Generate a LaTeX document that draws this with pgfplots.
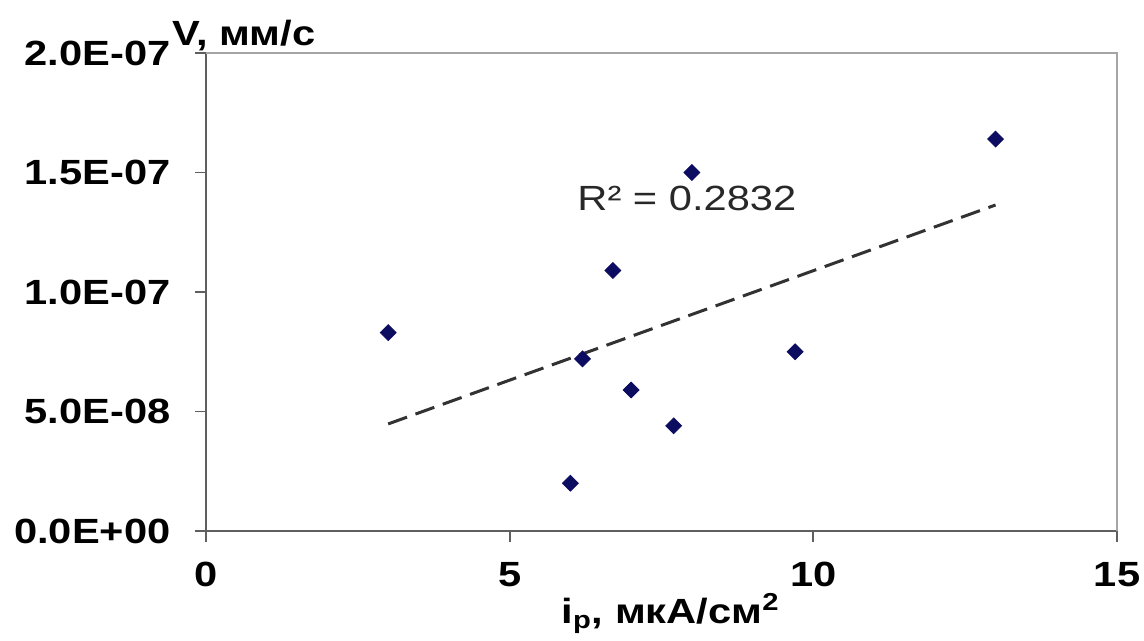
\documentclass[border=0pt]{standalone}
\usepackage{fontspec}
\setmainfont{Liberation Sans}[FakeStretch=1.19]
\usepackage{pgfplots}
\pgfplotsset{compat=1.18}

\definecolor{navy}{RGB}{12,12,96}
\definecolor{axdark}{RGB}{95,95,95}
\definecolor{axlight}{RGB}{165,165,165}

\begin{document}
\begin{tikzpicture}
\begin{axis}[
    name=ax,
    scale only axis,
    width=455.5pt, height=239pt,
    xmin=0, xmax=15,
    ymin=0, ymax=2e-7,
    axis x line*=bottom, axis y line*=left,
    axis line style={axdark, line width=1pt, -},
    xtick={0,5,10,15},
    xticklabels={0,5,10,15},
    ytick={0,5e-8,1e-7,1.5e-7,2e-7},
    yticklabels={0.0E+00,5.0E-08,1.0E-07,1.5E-07,2.0E-07},
    scaled y ticks=false,
    tick align=outside,
    major tick length=5.5pt,
    tick style={axdark, line width=0.9pt},
    ticklabel style={font=\fontsize{17.5}{20}\selectfont\bfseries},
    yticklabel style={anchor=east, inner sep=0pt, xshift=-12pt},
    xticklabel style={anchor=north, inner sep=0pt, yshift=-10pt},
    xlabel={i\textsubscript{р}, мкА/см\textsuperscript{2}},
    ylabel={V, мм/с},
    every axis x label/.style={at={(axis description cs:0.51,0)}, anchor=base, yshift=-46pt,
        font=\fontsize{17.5}{20}\selectfont\bfseries},
    every axis y label/.style={at={(axis description cs:-0.045,1.0167)}, anchor=base west,
        font=\fontsize{17.5}{20}\selectfont\bfseries},
    clip=false,
]
\draw[axlight, line width=1pt] (rel axis cs:0,1) -- (rel axis cs:1,1) -- (rel axis cs:1,0);

\addplot[only marks, mark=square*, mark size=2.8pt,
         mark options={rotate=45, fill=navy, draw=navy}] coordinates {
    (3.0,8.3e-8)
    (6.0,2.0e-8)
    (6.2,7.2e-8)
    (6.7,1.09e-7)
    (7.0,5.9e-8)
    (7.7,4.4e-8)
    (8.0,1.50e-7)
    (9.7,7.5e-8)
    (13.0,1.64e-7)
};

% linear trendline
\addplot[no marks, draw={rgb,255:red,50;green,50;blue,50}, line width=1.5pt,
         dash pattern=on 10pt off 4.5pt] coordinates {
    (3.0,4.48e-8)
    (13.0,1.364e-7)
};

\node[anchor=base west, inner sep=0pt, font=\fontsize{17.5}{20}\selectfont, text={rgb,255:red,40;green,40;blue,40}]
    at (axis cs:6.11,1.343e-7) {R² = 0.2832};
\end{axis}
\pgfresetboundingbox
\path (ax.south west) ++(-103pt,-55pt) rectangle ++(572pt,320.5pt);
\end{tikzpicture}
\end{document}
